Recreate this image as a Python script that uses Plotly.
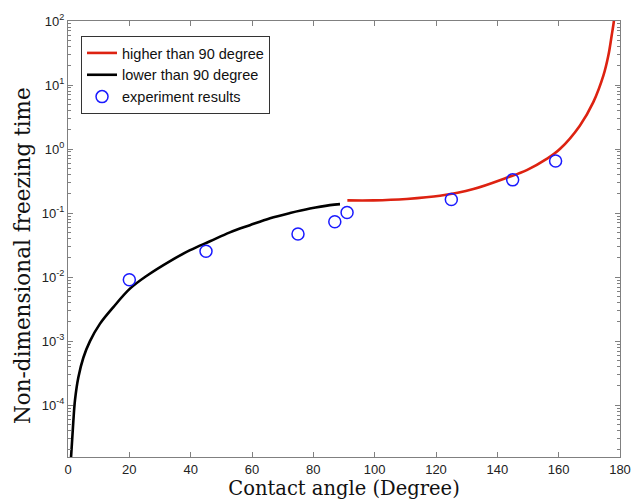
import plotly.graph_objects as go

# Black curve: contact angle < 90 degree
black_angle = [0.98, 1.74, 2.28, 3.37, 5.0, 7.17, 10.4, 14.8, 20.2, 25.7, 33.3,
               39.8, 46.3, 52.8, 59.3, 65.9, 72.4, 78.9, 85.4, 88.7]
black_time = [1.5e-5, 5.6e-5, 1.2e-4, 2.7e-4, 5.5e-4, 1.0e-3, 1.86e-3, 3.4e-3, 6.6e-3, 1.05e-2, 1.78e-2,
              0.0263, 0.0363, 0.050, 0.0646, 0.083, 0.100, 0.1175, 0.133, 0.138]

# Red curve: contact angle > 90 degree
red_angle = [91.1, 99.6, 110.4, 121.3, 132.2, 143.0, 149.6, 156.1, 160.4, 166.9,
             171.3, 174.6, 176.2, 177.3, 178.0, 178.3]
red_time = [0.158, 0.158, 0.166, 0.186, 0.237, 0.355, 0.468, 0.70, 1.0, 2.32,
            5.4, 14.1, 28.8, 60, 100, 150]

# Experiment results
exp_angle = [20, 45, 75, 87, 91, 125, 145, 159]
exp_time = [0.0091, 0.0254, 0.047, 0.073, 0.102, 0.163, 0.33, 0.65]

x_ticks = [0, 20, 40, 60, 80, 100, 120, 140, 160, 180]
y_tickvals = [1e-4, 1e-3, 1e-2, 1e-1, 1, 10, 100]
y_ticktext = ["10<sup>-4</sup>", "10<sup>-3</sup>", "10<sup>-2</sup>", "10<sup>-1</sup>",
              "10<sup>0</sup>", "10<sup>1</sup>", "10<sup>2</sup>"]

x_title = "Contact angle (Degree)"
y_title = "Non-dimensional freezing time"

fig = go.Figure()
fig.add_trace(go.Scatter(x=red_angle, y=red_time, mode="lines", name="higher than 90 degree",
                         line=dict(color="#dd2211", width=2.6, shape="spline", smoothing=1.0)))
fig.add_trace(go.Scatter(x=black_angle, y=black_time, mode="lines", name="lower than 90 degree",
                         line=dict(color="black", width=2.6, shape="spline", smoothing=1.0)))
fig.add_trace(go.Scatter(x=exp_angle, y=exp_time, mode="markers", name="experiment results",
                         marker=dict(symbol="circle-open", size=12, color="#1a1aff",
                                     line=dict(width=1.5, color="#1a1aff"))))

axis_color = "#808080"
fig.update_layout(
    width=634, height=504,
    margin=dict(l=68, r=14, t=21, b=47),
    paper_bgcolor="white", plot_bgcolor="white",
    font=dict(family="Liberation Sans, Arial", size=13, color="#222222"),
    legend=dict(x=0.0236, y=0.9656, xanchor="left", yanchor="top",
                bordercolor="#333333", borderwidth=1, bgcolor="white",
                font=dict(family="Liberation Sans, Arial", size=14.5, color="#111111"),
                tracegroupgap=0),
    showlegend=True,
    annotations=[dict(text=y_title, textangle=-90, xref="paper", yref="paper",
                      x=(22 - 68) / 552, y=1 - (256 - 21) / 436, xanchor="center", yanchor="middle",
                      showarrow=False,
                      font=dict(family="DejaVu Serif", size=21.5, color="#111111"))],
)
fig.update_xaxes(
    range=[0, 180], tickvals=x_ticks, ticks="inside", ticklen=5, tickcolor=axis_color,
    showline=True, linecolor=axis_color, linewidth=1, mirror="ticks", showgrid=False, zeroline=False,
    tickfont=dict(size=13, color="#222222"), automargin=False,
    title=dict(text=x_title, font=dict(family="DejaVu Serif", size=19.5, color="#111111"),
               standoff=3),
)
fig.update_yaxes(
    type="log", range=[-4.81, 2], tickvals=y_tickvals, ticktext=y_ticktext,
    ticks="inside", ticklen=5, tickcolor=axis_color,
    minor=dict(ticks="inside", ticklen=3, tickcolor=axis_color, dtick="D1", showgrid=False),
    showline=True, linecolor=axis_color, linewidth=1, mirror="ticks", showgrid=False, zeroline=False,
    tickfont=dict(size=13, color="#222222"), automargin=False,
)

fig.write_html("out.html", config={"displayModeBar": False},
               post_script="document.body.style.margin='0';")
